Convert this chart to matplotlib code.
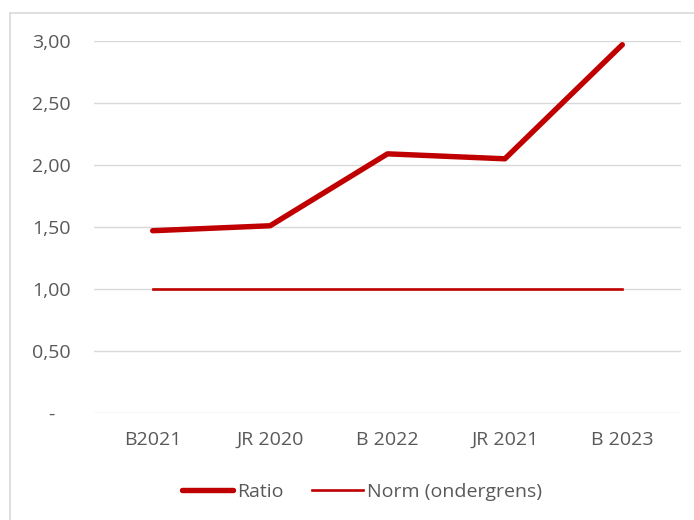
import matplotlib
matplotlib.use("Agg")
import matplotlib.pyplot as plt
from matplotlib.lines import Line2D

categories = ["B2021", "JR 2020", "B 2022", "JR 2021", "B 2023"]
ratio = [1.47, 1.51, 2.09, 2.05, 2.97]
norm = [1.0, 1.0, 1.0, 1.0, 1.0]
yticks = [0, 0.5, 1.0, 1.5, 2.0, 2.5, 3.0]
ytick_labels = ["-   ", "0,50", "1,00", "1,50", "2,00", "2,50", "3,00"]

plt.rcParams["font.family"] = ["Open Sans", "DejaVu Sans"]
W, H = 694, 520
fig = plt.figure(figsize=(W / 100, H / 100), dpi=100)

# chart frame: only left and top edges are visible in the crop
frame_kw = dict(transform=fig.transFigure, color="#d9d9d9", linewidth=1.2)
fig.lines.append(Line2D([9.5 / W, 9.5 / W], [0, 1 - 13 / H], **frame_kw))
fig.lines.append(Line2D([9.5 / W, 1], [1 - 13 / H, 1 - 13 / H], **frame_kw))

ax = fig.add_axes([94 / W, 1 - 413 / H, (681 - 94) / W, (413 - 41) / H])
x = range(len(categories))
red = "#c00000"
ax.plot(x, ratio, color=red, linewidth=3.9, solid_capstyle="round",
        solid_joinstyle="round", label="Ratio", clip_on=False, zorder=3)
ax.plot(x, norm, color=red, linewidth=1.9, label="Norm (ondergrens)", zorder=3)

ax.set_xlim(-0.5, len(categories) - 0.5)
ax.set_ylim(0, 3.0)
ax.set_yticks(yticks)
ax.set_yticklabels(ytick_labels)
ax.set_xticks(list(x))
ax.set_xticklabels(categories)
ax.grid(axis="y", color="#d9d9d9", linewidth=1)
ax.set_axisbelow(True)
for s in ax.spines.values():
    s.set_visible(False)
ax.tick_params(length=0, colors="#595959", labelsize=14)
ax.tick_params(axis="y", pad=17)
ax.tick_params(axis="x", pad=13)

leg = fig.legend(loc="center", bbox_to_anchor=(362 / W, 1 - 492 / H), ncol=2,
                 frameon=False, fontsize=14, handlelength=2.6,
                 handletextpad=0.2, columnspacing=1.5)
for t in leg.get_texts():
    t.set_color("#595959")

fig.savefig("out.png", dpi=100)
